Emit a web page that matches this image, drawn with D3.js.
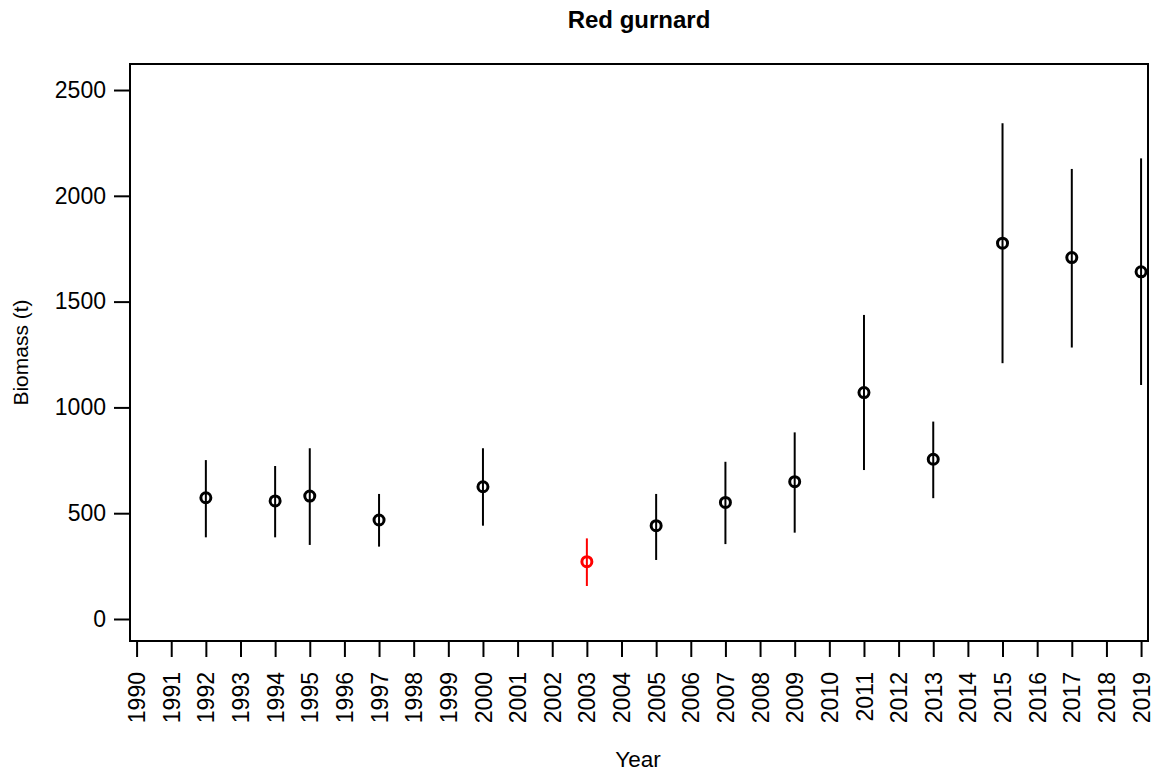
<!DOCTYPE html>
<html>
<head>
<meta charset="utf-8">
<script src="https://cdn.jsdelivr.net/npm/d3@7"></script>
<style>
  body { margin: 0; background: #fff; }
  svg { display: block; font-family: "Liberation Sans", Arial, Helvetica, sans-serif; }
</style>
</head>
<body>
<svg id="chart" width="1157" height="774"></svg>
<script>
// ---- data ----
const years   = [1992, 1994, 1995, 1997, 2000, 2003, 2005, 2007, 2009, 2011, 2013, 2015, 2017, 2019];
const biomass = [ 573,  558,  581,  468,  625,  271,  441,  551,  649, 1070,  755, 1776, 1708, 1641];
const lower   = [ 386,  386,  350,  342,  441,  156,  279,  354,  408,  704,  571, 1209, 1283, 1106];
const upper   = [ 751,  723,  807,  591,  807,  381,  591,  743,  882, 1437,  933, 2343, 2127, 2177];
const highlightYears = [2003];
const xTickYears = d3.range(1990, 2020);
const yTicks = [0, 500, 1000, 1500, 2000, 2500];
const title = "Red gurnard";
const xLabel = "Year";
const yLabel = "Biomass (t)";

const data = years.map((y, i) => ({ year: y, value: biomass[i], lo: lower[i], hi: upper[i] }));

// ---- layout ----
const svg = d3.select("#chart");
const box = { left: 130, right: 1148, top: 64, bottom: 641 };

const x = d3.scaleLinear().domain([1989.81, 2019.2]).range([box.left, box.right]);
const y = d3.scaleLinear().domain([-104, 2623]).range([box.bottom, box.top]);

// plot box
svg.append("rect")
  .attr("x", box.left).attr("y", box.top)
  .attr("width", box.right - box.left).attr("height", box.bottom - box.top)
  .attr("fill", "none").attr("stroke", "#000").attr("stroke-width", 2);

// y axis
const yAxis = d3.axisLeft(y).tickValues(yTicks).tickSize(15).tickPadding(8).tickFormat(d3.format("d"));
const gy = svg.append("g").attr("transform", `translate(${box.left - 1},0)`).call(yAxis);
gy.select(".domain").remove();
gy.selectAll(".tick line").attr("stroke-width", 2);
gy.selectAll(".tick text").attr("font-size", 23).attr("fill", "#000")
  .attr("font-family", "'Liberation Sans', Arial, sans-serif");

// x axis
const xAxis = d3.axisBottom(x).tickValues(xTickYears).tickSize(15).tickPadding(0).tickFormat(d3.format("d"));
const gx = svg.append("g").attr("transform", `translate(0,${box.bottom + 1})`).call(xAxis);
gx.select(".domain").remove();
gx.selectAll(".tick line").attr("stroke-width", 2);
gx.selectAll(".tick text")
  .attr("font-size", 23).attr("fill", "#000")
  .attr("font-family", "'Liberation Sans', Arial, sans-serif")
  .attr("transform", "rotate(-90)")
  .attr("x", -30).attr("y", 0).attr("dy", "0.35em")
  .attr("text-anchor", "end");

// error bars
const colorOf = d => highlightYears.includes(d.year) ? "#ff0000" : "#000";
svg.append("g").selectAll("line").data(data).join("line")
  .attr("x1", d => x(d.year)).attr("x2", d => x(d.year))
  .attr("y1", d => y(d.lo)).attr("y2", d => y(d.hi))
  .attr("stroke", colorOf).attr("stroke-width", 2);

// points
svg.append("g").selectAll("circle").data(data).join("circle")
  .attr("cx", d => x(d.year)).attr("cy", d => y(d.value)).attr("r", 5)
  .attr("fill", "none").attr("stroke", colorOf).attr("stroke-width", 3);

// title & labels
svg.append("text").attr("x", (box.left + box.right) / 2).attr("y", 28)
  .attr("text-anchor", "middle").attr("font-size", 24).attr("font-weight", "bold").text(title);
svg.append("text").attr("x", (box.left + box.right) / 2 - 1).attr("y", 767)
  .attr("text-anchor", "middle").attr("font-size", 22.5).text(xLabel);
svg.append("text").attr("transform", `translate(28,${(box.top + box.bottom) / 2}) rotate(-90)`)
  .attr("text-anchor", "middle").attr("font-size", 21).text(yLabel);
</script>
</body>
</html>
